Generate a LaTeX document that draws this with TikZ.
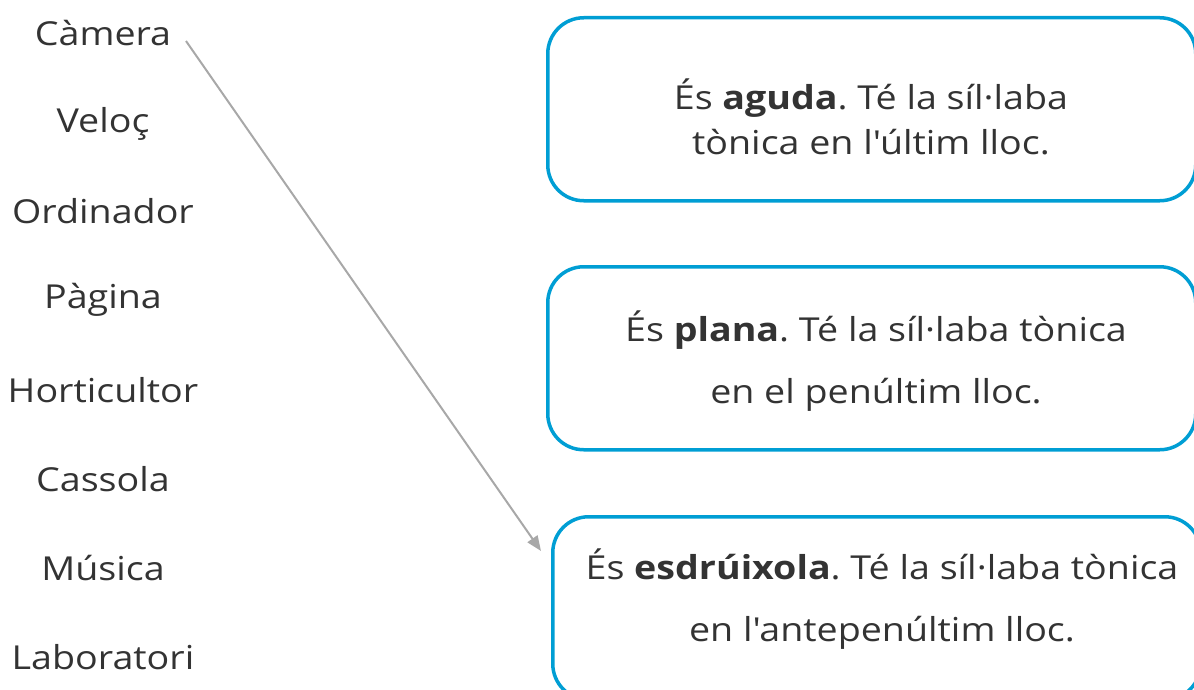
\documentclass[tikz,border=0pt]{standalone}
\usepackage{fontspec}
\setmainfont{Open Sans}[FakeStretch=1.14,Ligatures=TeXOff]
\usetikzlibrary{arrows.meta}
\definecolor{boxblue}{RGB}{0,158,212}
\definecolor{ink}{RGB}{51,51,51}
\definecolor{arrowgray}{RGB}{168,168,168}
\frenchspacing
\begin{document}
\begin{tikzpicture}[x=1pt,y=-1pt,
  word/.style={text=ink,font=\fontsize{33}{38}\selectfont,inner sep=0pt,anchor=center},
  answer/.style={draw=boxblue,line width=3.5pt,rounded corners=36pt,minimum width=648pt,minimum height=183pt,anchor=north west,inner sep=0pt},
  answertext/.style={text=ink,font=\fontsize{33}{45}\selectfont,align=center,inner sep=0pt},
  link/.style={draw=arrowgray,line width=2pt,-{Triangle[length=15pt,width=12pt]}}]
\useasboundingbox (0,0) rectangle (1194,690);
\clip (0,0) rectangle (1194,690);
\node[word] (w1) at (103,33) {Càmera};
\node[word] (w2) at (103,124) {Veloç};
\node[word] (w3) at (103,211) {Ordinador};
\node[word] (w4) at (103,300) {Pàgina};
\node[word] (w5) at (103,390) {Horticultor};
\node[word] (w6) at (103,479) {Cassola};
\node[word] (w7) at (103,568) {Música};
\node[word] (w8) at (103,657) {Laboratori};
\node[answer] (b1) at (546,16) {};
\node[answer] (b2) at (546,265) {};
\node[answer] (b3) at (551,515) {};
\node[answertext] (t1) at (871,117) {És \textbf{aguda}. Té la síl·laba\\tònica en l'últim lloc.};
\node[answertext,font=\fontsize{33}{62}\selectfont] (t2) at (876,361) {És \textbf{plana}. Té la síl·laba tònica\\en el penúltim lloc.};
\node[answertext,font=\fontsize{33}{62}\selectfont] (t3) at (882,599) {És \textbf{esdrúixola}. Té la síl·laba tònica\\en l'antepenúltim lloc.};
\coordinate (start) at (186,41);
\coordinate (tip) at (541,551);
\draw[link] (start) -- (tip);
\end{tikzpicture}
\end{document}
